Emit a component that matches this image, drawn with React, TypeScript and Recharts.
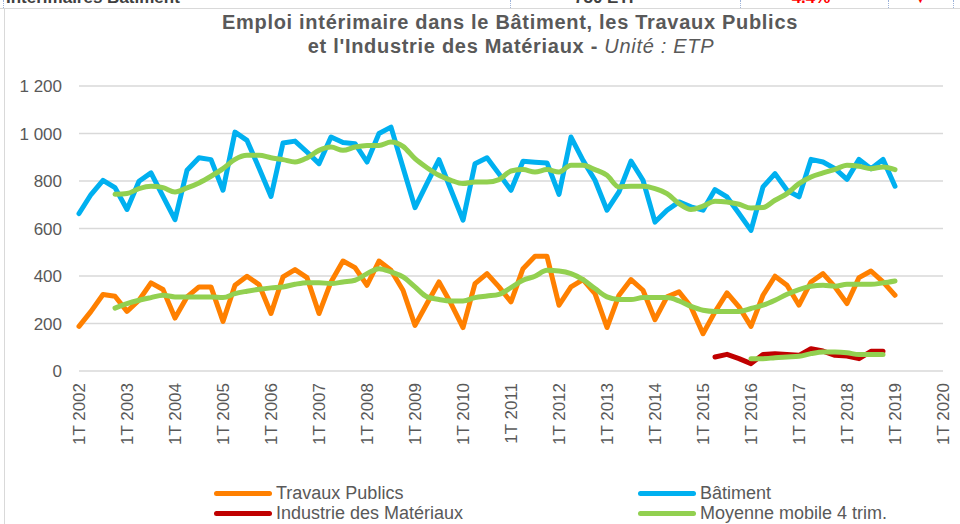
import { CartesianGrid, Line, LineChart, XAxis, YAxis } from 'recharts';

const FONT = '"Liberation Sans", Arial, sans-serif';
const GREY = '#595959';

const years = [2002, 2003, 2004, 2005, 2006, 2007, 2008, 2009, 2010, 2011, 2012, 2013, 2014, 2015, 2016, 2017, 2018, 2019, 2020];
const quarterNames = ['1T', '2T', '3T', '4T'];
const yTicks = [0, 200, 400, 600, 800, 1000, 1200];

// 1T 2002 -> 1T 2019
const batiment = [
  663, 743, 803, 772, 680, 799, 834, 735, 637, 845, 898, 890, 761, 1006, 971, 855,
  735, 960, 968, 922, 873, 985, 962, 957, 880, 1000, 1027, 857, 688, 790, 890, 762,
  635, 873, 898, 830, 761, 883, 879, 876, 744, 985, 887, 803, 677, 754, 884, 803,
  627, 677, 712, 691, 677, 764, 733, 663, 592, 775, 831, 761, 733, 891, 880, 852,
  807, 891, 852, 891, 778
];
const travauxPublics = [
  188, 251, 322, 315, 251, 298, 371, 343, 223, 312, 354, 354, 209, 361, 399, 364,
  242, 396, 427, 393, 242, 375, 463, 435, 361, 463, 424, 340, 192, 284, 375, 284,
  183, 368, 410, 354, 291, 431, 483, 483, 277, 354, 385, 326, 183, 319, 385, 340,
  216, 312, 333, 270, 157, 249, 329, 270, 188, 319, 399, 361, 277, 375, 410, 354,
  284, 393, 421, 375, 319
];
// 2T 2015 -> 4T 2018
const industrieStart = 53;
const industrie = [59, 70, 52, 31, 70, 73, 70, 66, 94, 84, 66, 63, 52, 83, 83];

// moyennes mobiles 4 trimestres
const maStart = 3;
const maBatiment = [
  744, 747, 768, 778, 772, 754, 771, 792, 820, 852, 891, 908, 908, 898, 890, 880,
  897, 929, 943, 929, 943, 950, 950, 964, 946, 894, 856, 824, 803, 789, 796, 796,
  806, 842, 848, 838, 848, 838, 866, 866, 848, 824, 775, 778, 778, 768, 747, 705,
  680, 694, 715, 712, 702, 686, 688, 719, 747, 789, 817, 834, 849, 866, 862, 852,
  859, 848
];
const maTravauxPublics = [
  265, 284, 298, 309, 319, 312, 312, 312, 312, 309, 326, 336, 344, 350, 354, 365,
  372, 372, 368, 375, 382, 410, 431, 417, 396, 354, 312, 301, 295, 295, 309, 316,
  323, 351, 382, 399, 424, 421, 410, 385, 347, 312, 301, 301, 309, 309, 309, 295,
  272, 256, 251, 251, 251, 263, 277, 298, 323, 343, 357, 361, 357, 365, 365, 365,
  371, 379
];
const maIndustrieStart = 56;
const maIndustrie = [52, 52, 56, 59, 62, 73, 80, 80, 77, 69, 69, 69];

const categories = years.flatMap((y) => quarterNames.map((q) => `${q} ${y}`)).slice(0, 73);

const at = (arr: number[], start: number, i: number) => {
  const v = arr[i - start];
  return v === undefined ? null : v;
};

const data = categories.map((q, i) => ({
  q,
  bat: at(batiment, 0, i),
  tp: at(travauxPublics, 0, i),
  ind: at(industrie, industrieStart, i),
  maBat: at(maBatiment, maStart, i),
  maTp: at(maTravauxPublics, maStart, i),
  maInd: at(maIndustrie, maIndustrieStart, i),
}));

const legendItems = [
  { label: 'Travaux Publics', color: '#FF8000', left: 214, top: 483 },
  { label: 'Industrie des Matériaux', color: '#C00000', left: 214, top: 503 },
  { label: 'Bâtiment', color: '#00B0F0', left: 638, top: 483 },
  { label: 'Moyenne mobile 4 trim.', color: '#92D050', left: 638, top: 503 },
];

const fmtY = (v: number) => (v >= 1000 ? `${Math.floor(v / 1000)} ${String(v % 1000).padStart(3, '0')}` : String(v));

function XTick({ x, y, payload }: any) {
  return (
    <text
      x={x}
      y={y}
      transform={`rotate(-90, ${x}, ${y})`}
      textAnchor="end"
      dy="0.35em"
      fill={GREY}
      fontSize={17}
      fontFamily={FONT}
    >
      {payload.value}
    </text>
  );
}

export default function App() {
  const lineProps = { dot: false, activeDot: false, isAnimationActive: false, strokeWidth: 5, strokeLinejoin: 'round' as const, strokeLinecap: 'round' as const };
  const titleStyle = { position: 'absolute' as const, left: 0, textAlign: 'center' as const, fontSize: 20, lineHeight: '24px', fontWeight: 'bold' as const, color: GREY, whiteSpace: 'nowrap' as const, letterSpacing: 0.7 };
  return (
    <div style={{ position: 'absolute', left: 0, top: 0, width: 960, height: 524, overflow: 'hidden', background: '#fff', fontFamily: FONT }}>
      {/* bas de la ligne de tableau au-dessus */}
      <div style={{ position: 'absolute', left: 0, top: 0, width: 960, height: 8, overflow: 'hidden', borderBottom: '1px solid #d9d9d9' }}>
        <span style={{ position: 'absolute', left: 6, top: -11, fontSize: 17, lineHeight: '18px', fontWeight: 'bold', color: '#404040', whiteSpace: 'nowrap' }}>Intérimaires Bâtiment</span>
        <span style={{ position: 'absolute', left: 574, top: -11, fontSize: 17, lineHeight: '18px', fontWeight: 'bold', color: '#404040' }}>750 ETP</span>
        <span style={{ position: 'absolute', left: 786, top: -11, fontSize: 17, lineHeight: '18px', fontWeight: 'bold', color: '#FF0000' }}>-4.4%</span>
        <span style={{ position: 'absolute', left: 913, top: -11, fontSize: 15, lineHeight: '18px', color: '#FF0000' }}>▼</span>
        {[3, 510, 740, 888, 953].map((x) => (
          <div key={x} style={{ position: 'absolute', left: x, top: 0, height: 8, borderLeft: '1px dotted #9db3d9' }} />
        ))}
      </div>
      <div style={{ position: 'absolute', left: 4, top: 9, width: 1, height: 515, background: '#d9d9d9' }} />

      <div style={{ ...titleStyle, top: 10, width: 1020 }}>
        Emploi intérimaire dans le Bâtiment, les Travaux Publics
      </div>
      <div style={{ ...titleStyle, top: 34, width: 1022 }}>
        et l'Industrie des Matériaux - <span style={{ fontWeight: 'normal', fontStyle: 'italic' }}>Unité : ETP</span>
      </div>

      <div style={{ position: 'absolute', left: 0, top: 0 }}>
        <LineChart width={960} height={524} data={data} margin={{ top: 86, right: 17, bottom: 0, left: 0 }}>
          <CartesianGrid vertical={false} stroke="#d9d9d9" strokeWidth={1.5} />
          <XAxis
            dataKey="q"
            interval={3}
            axisLine={false}
            tickLine={false}
            tickSize={0}
            tickMargin={12}
            height={153}
            tick={<XTick />}
          />
          <YAxis
            domain={[0, 1200]}
            ticks={yTicks}
            width={79}
            axisLine={false}
            tickLine={false}
            tickSize={0}
            tickMargin={17}
            tickFormatter={fmtY}
            tick={{ fill: GREY, fontSize: 17, fontFamily: FONT }}
          />
          <Line dataKey="bat" stroke="#00B0F0" type="linear" {...lineProps} />
          <Line dataKey="tp" stroke="#FF8000" type="linear" {...lineProps} />
          <Line dataKey="ind" stroke="#C00000" type="linear" {...lineProps} />
          <Line dataKey="maBat" stroke="#92D050" type="monotone" {...lineProps} />
          <Line dataKey="maTp" stroke="#92D050" type="monotone" {...lineProps} />
          <Line dataKey="maInd" stroke="#92D050" type="monotone" {...lineProps} />
        </LineChart>
      </div>

      {legendItems.map((it) => (
        <div key={it.label} style={{ position: 'absolute', left: it.left, top: it.top, height: 20, display: 'flex', alignItems: 'center', whiteSpace: 'nowrap' }}>
          <span style={{ display: 'inline-block', width: 58, height: 5, borderRadius: 3, background: it.color, marginRight: 4 }} />
          <span style={{ fontSize: 18, color: GREY }}>{it.label}</span>
        </div>
      ))}
    </div>
  );
}
